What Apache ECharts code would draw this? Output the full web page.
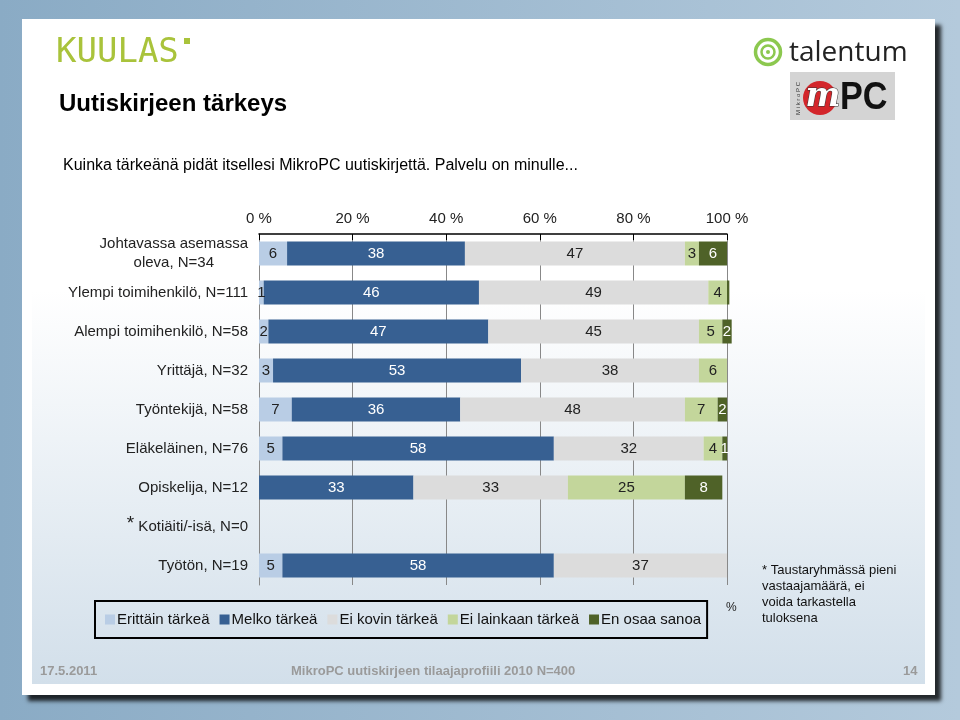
<!DOCTYPE html>
<html>

<head>
	<meta charset="utf-8" />
	<title>Uutiskirjeen tärkeys</title>
	<script src="https://cdn.jsdelivr.net/npm/echarts@6/dist/echarts.min.js"></script>
	<style>
		html, body { margin: 0; padding: 0; }
		#main { width: 960px; height: 720px; }
	</style>
</head>

<body>
	<div id="main"></div>
	<script type="text/javascript">
		// taustaryhmät
		var ryhmat = [
			'Johtavassa asemassa\noleva, N=34',
			'Ylempi toimihenkilö, N=111',
			'Alempi toimihenkilö, N=58',
			'Yrittäjä, N=32',
			'Työntekijä, N=58',
			'Eläkeläinen, N=76',
			'Opiskelija, N=12',
			'* Kotiäiti/-isä, N=0',
			'Työtön, N=19'
		];
		var sarjat = ['Erittäin tärkeä', 'Melko tärkeä', 'Ei kovin tärkeä', 'Ei lainkaan tärkeä', 'En osaa sanoa'];
		var erittain = [6, 1, 2, 3, 7, 5, 0, null, 5];
		var melko = [38, 46, 47, 53, 36, 58, 33, null, 58];
		var eiKovin = [47, 49, 45, 38, 48, 32, 33, null, 37];
		var eiLainkaan = [3, 4, 5, 6, 7, 4, 25, null, 0];
		var enOsaa = [6, 0.5, 2, 0, 2, 1, 8, null, 0];
		var xTicks = [0, 20, 40, 60, 80, 100];

		var varit = ['#b9cde5', '#376092', '#dcdcdc', '#c3d69b', '#4f6228'];
		var tekstiVarit = ['#222', '#fff', '#222', '#222', '#fff'];
		var arvot = [erittain, melko, eiKovin, eiLainkaan, enOsaa];

		var font = '"Liberation Sans", Arial, sans-serif';

		var series = [];
		for (var i = 0; i < sarjat.length; i++) {
			series.push({
				name: sarjat[i],
				type: 'bar',
				stack: 'yht',
				data: arvot[i],
				barWidth: 24,
				clip: false,
				itemStyle: { color: varit[i] },
				label: {
					show: true,
					position: 'inside',
					color: tekstiVarit[i],
					fontSize: 15,
					fontFamily: font,
					formatter: function (p) { return p.value >= 1 ? p.value : ''; }
				}
			});
		}

		var myChart = echarts.init(document.getElementById('main'));

		option = {
			animation: false,
			textStyle: { fontFamily: font },
			graphic: [
				// tausta
				{ type: 'rect', z: -10, shape: { x: 0, y: 0, width: 960, height: 720 },
					style: { fill: new echarts.graphic.LinearGradient(0, 0, 1, 0, [
						{ offset: 0, color: '#8aabc5' }, { offset: 1, color: '#b4cadc' }]) } },
				// dia
				{ type: 'rect', z: -9, shape: { x: 22, y: 19, width: 913, height: 676 },
					style: { fill: '#fff', shadowColor: 'rgba(0,0,0,0.8)', shadowBlur: 4, shadowOffsetX: 6, shadowOffsetY: 6 } },
				{ type: 'rect', z: -8, shape: { x: 32, y: 28, width: 893, height: 656 },
					style: { fill: new echarts.graphic.LinearGradient(0, 0, 0, 1, [
						{ offset: 0, color: '#ffffff' }, { offset: 0.4, color: '#ffffff' }, { offset: 1, color: '#d2dfea' }]) } },
				// KUULAS
				{ type: 'text', left: 56, top: 36, style: { text: 'KUULAS', fill: '#a9c33b', fontSize: 34, fontFamily: '"DejaVu Sans Mono", monospace' } },
				{ type: 'rect', shape: { x: 184, y: 38, width: 6, height: 6 }, style: { fill: '#a9c33b' } },
				// talentum
				{ type: 'circle', shape: { cx: 768, cy: 52, r: 12.5 }, style: { fill: 'none', stroke: '#8cc84f', lineWidth: 3.5 } },
				{ type: 'circle', shape: { cx: 768, cy: 52, r: 6.5 }, style: { fill: 'none', stroke: '#8cc84f', lineWidth: 2.5 } },
				{ type: 'circle', shape: { cx: 768, cy: 52, r: 2 }, style: { fill: '#8cc84f' } },
				{ type: 'text', left: 789, top: 39, style: { text: 'talentum', fill: '#222', fontSize: 28, fontFamily: '"Open Sans", sans-serif' } },
				// MPC
				{ type: 'rect', shape: { x: 790, y: 72, width: 105, height: 48 }, style: { fill: '#d4d4d4' } },
				{ type: 'text', x: 798, y: 115, rotation: Math.PI / 2, style: { text: 'M i k r o P C', fill: '#333', fontSize: 6, align: 'left', verticalAlign: 'middle' } },
				{ type: 'circle', shape: { cx: 820, cy: 98, r: 17 }, style: { fill: '#d3262b' } },
				{ type: 'text', left: 805, top: 80, style: { text: 'm', fill: '#fff', stroke: '#333', lineWidth: 1, fontSize: 33, fontWeight: 'bold', fontStyle: 'italic', fontFamily: '"DejaVu Serif", serif' } },
				{ type: 'text', x: 840, y: 99, scaleX: 0.9, style: { text: 'PC', fill: '#111', fontSize: 38, fontWeight: 'bold', fontFamily: font, verticalAlign: 'middle' } },
				// otsikot
				{ type: 'text', left: 59, top: 92, style: { text: 'Uutiskirjeen tärkeys', fill: '#000', fontSize: 24, fontWeight: 'bold', fontFamily: font } },
				{ type: 'text', left: 63, top: 158, style: { text: 'Kuinka tärkeänä pidät itsellesi MikroPC uutiskirjettä. Palvelu on minulle...', fill: '#000', fontSize: 16, fontFamily: font } },
				{ type: 'text', left: 726, top: 602, style: { text: '%', fill: '#222', fontSize: 12, fontFamily: font } },
				{ type: 'text', left: 762, top: 562, style: { text: '* Taustaryhmässä pieni\nvastaajamäärä, ei\nvoida tarkastella\ntuloksena', fill: '#111', fontSize: 13, lineHeight: 16, fontFamily: font } },
				// alatunniste
				{ type: 'text', left: 40, top: 665, style: { text: '17.5.2011', fill: '#9a9a9a', fontSize: 13, fontWeight: 'bold', fontFamily: font } },
				{ type: 'text', left: 291, top: 665, style: { text: 'MikroPC uutiskirjeen tilaajaprofiili 2010 N=400', fill: '#9a9a9a', fontSize: 13, fontWeight: 'bold', fontFamily: font } },
				{ type: 'text', left: 903, top: 665, style: { text: '14', fill: '#9a9a9a', fontSize: 13, fontWeight: 'bold', fontFamily: font } }
			],
			legend: {
				data: sarjat,
				left: 95,
				top: 601,
				orient: 'horizontal',
				icon: 'rect',
				itemWidth: 10,
				itemHeight: 10,
				itemGap: 10,
				padding: [11, 6, 11, 10],
				borderColor: '#000',
				borderWidth: 2,
				textStyle: { fontSize: 15, color: '#111', fontFamily: font, padding: [0, 0, 0, -3] }
			},
			grid: {
				left: 259,
				right: 233,
				top: 234,
				height: 351,
				containLabel: false
			},
			xAxis: {
				type: 'value',
				position: 'top',
				min: 0,
				max: 100,
				interval: 20,
				axisLine: { show: true, lineStyle: { color: '#000', width: 1.5 } },
				axisTick: { show: true, inside: true, length: 6, lineStyle: { color: '#000' } },
				splitLine: { show: true, lineStyle: { color: '#888', width: 1 } },
				axisLabel: {
					fontSize: 15,
					color: '#222',
					margin: 8,
					formatter: function (v) { return xTicks.indexOf(v) >= 0 ? v + ' %' : ''; }
				}
			},
			yAxis: {
				type: 'category',
				data: ryhmat,
				inverse: true,
				axisLine: { show: true, lineStyle: { color: '#888' } },
				axisTick: { show: false },
				axisLabel: {
					fontSize: 15,
					color: '#222',
					margin: 11,
					formatter: function (v) {
						if (v.indexOf('\n') >= 0) {
							var osat = v.split('\n');
							return '{a|' + osat[0] + '}\n{b|' + osat[1] + '}';
						}
						if (v.charAt(0) === '*') {
							return '{s|*}{n|' + v.slice(1) + '}';
						}
						return v;
					},
					rich: {
						a: { fontSize: 15, color: '#222', lineHeight: 19 },
						b: { fontSize: 15, color: '#222', lineHeight: 19, align: 'center' },
						s: { fontSize: 19, color: '#222', padding: [0, 0, 6, 0] },
						n: { fontSize: 15, color: '#222' }
					}
				}
			},
			series: series
		};

		myChart.setOption(option);
	</script>
</body>

</html>
